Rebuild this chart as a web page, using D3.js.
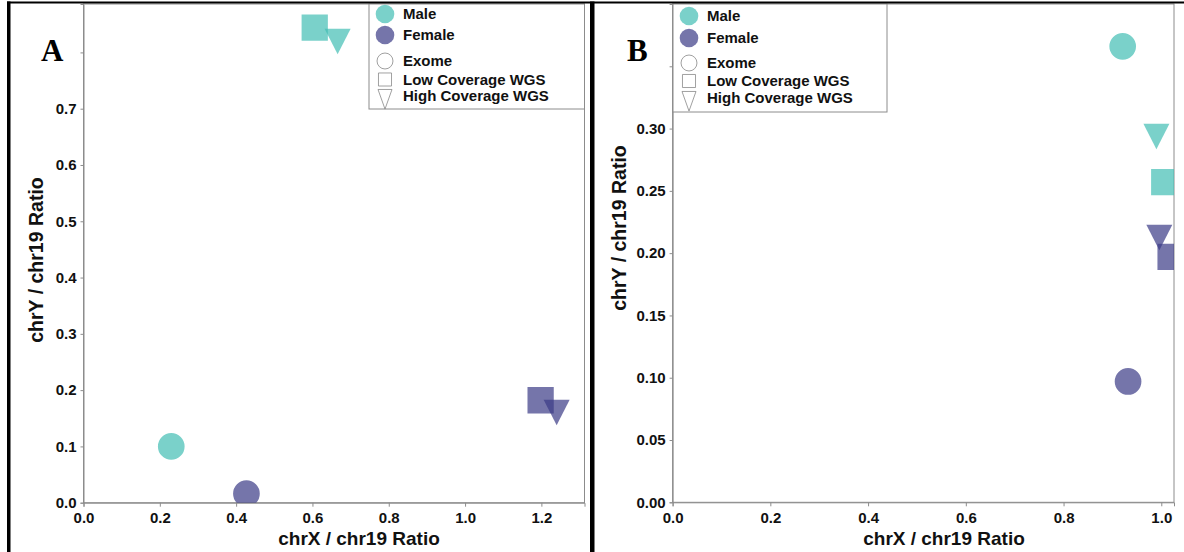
<!DOCTYPE html>
<html>
<head>
<meta charset="utf-8">
<script src="https://cdn.jsdelivr.net/npm/d3@7"></script>
<style>
  body { margin: 0; background: #fff; }
  svg { display: block; font-family: "Liberation Sans", Arial, sans-serif; font-weight: bold; }
</style>
</head>
<body>
<svg id="chart" width="1184" height="552"></svg>
<script>
// sex / sequencing method of each point (same order in both panels)
const sexes = ["Male", "Female", "Male", "Female", "Male", "Female"];
const methods = ["Exome", "Exome", "Low Coverage WGS", "Low Coverage WGS", "High Coverage WGS", "High Coverage WGS"];

// panel A values
const aX = [0.230, 0.427, 0.606, 1.198, 0.666, 1.240];
const aY = [0.100, 0.016, 0.844, 0.182, 0.827, 0.168];
const aXTicks = [0, 0.2, 0.4, 0.6, 0.8, 1.0, 1.2];
const aYTicks = [0, 0.1, 0.2, 0.3, 0.4, 0.5, 0.6, 0.7, 0.8];

// panel B values
const bX = [0.921, 0.932, 1.006, 1.019, 0.990, 0.996];
const bY = [0.366, 0.097, 0.257, 0.197, 0.297, 0.216];
const bXTicks = [0, 0.2, 0.4, 0.6, 0.8, 1.0];
const bYTicks = [0, 0.05, 0.10, 0.15, 0.20, 0.25, 0.30, 0.35];

const legendSex = ["Male", "Female"];
const legendMethod = ["Exome", "Low Coverage WGS", "High Coverage WGS"];

const colors = { Male: "#41bdb3", Female: "#3b3b86" };
const opacity = 0.7;
const gray = "#8c8c8c";

// downward triangle, width = sqrt(size), height = w * k
function triDown(k) {
  return {
    draw(ctx, size) {
      const w = Math.sqrt(size), h = w * k;
      ctx.moveTo(-w / 2, -h / 3);
      ctx.lineTo(w / 2, -h / 3);
      ctx.lineTo(0, 2 * h / 3);
      ctx.closePath();
    }
  };
}
const shapes = { "Exome": d3.symbolCircle, "Low Coverage WGS": d3.symbolSquare, "High Coverage WGS": triDown(0.98) };
const legendShapes = { "Exome": d3.symbolCircle, "Low Coverage WGS": d3.symbolSquare, "High Coverage WGS": triDown(1.4) };
const sizes = { "Exome": 560, "Low Coverage WGS": 690, "High Coverage WGS": 676 };
const legendSizes = { "Exome": 200, "Low Coverage WGS": 170, "High Coverage WGS": 196 };

const svg = d3.select("#chart");
svg.append("rect").attr("width", 1184).attr("height", 552).attr("fill", "#fff");

function drawPanel(p) {
  const x = d3.scaleLinear().domain([0, p.xMax]).range([p.left, p.right]);
  const y = d3.scaleLinear().domain([0, p.yMax]).range([p.bottom, p.top]);
  const g = svg.append("g");

  g.append("clipPath").attr("id", "clip" + p.id)
    .append("rect")
    .attr("x", p.left).attr("y", p.top)
    .attr("width", p.right - p.left).attr("height", p.bottom - p.top);

  // plot frame
  g.append("rect")
    .attr("x", p.left).attr("y", p.top)
    .attr("width", p.right - p.left).attr("height", p.bottom - p.top)
    .attr("fill", "none").attr("stroke", gray);

  // the top y tick has its label hidden behind the panel letter
  const yFmt = d3.format(p.yFmt);
  const top = p.yTicks[p.yTicks.length - 1];
  const xAxis = g.append("g")
    .attr("transform", `translate(0,${p.bottom})`)
    .call(d3.axisBottom(x).tickValues(p.xTicks).tickFormat(d3.format(".1f")).tickSize(4).tickPadding(6));
  const yAxis = g.append("g")
    .attr("transform", `translate(${p.left},0)`)
    .call(d3.axisLeft(y).tickValues(p.yTicks).tickFormat(d => d === top ? "" : yFmt(d)).tickSize(3).tickPadding(4));
  [xAxis, yAxis].forEach(a => {
    a.selectAll("path, line").attr("stroke", gray);
    a.selectAll("text").attr("fill", "#111").style("font-size", "15px").style("font-weight", "bold");
  });

  // points
  const pts = p.xs.map((v, i) => ({ x: v, y: p.ys[i], sex: sexes[i], method: methods[i] }));
  g.append("g").attr("clip-path", `url(#clip${p.id})`)
    .selectAll("path")
    .data(pts)
    .enter().append("path")
    .attr("transform", d => `translate(${x(d.x)},${y(d.y)})`)
    .attr("d", d => d3.symbol().type(shapes[d.method]).size(sizes[d.method])())
    .attr("fill", d => colors[d.sex])
    .attr("fill-opacity", opacity);

  // axis titles
  g.append("text")
    .attr("x", p.xTitleX).attr("y", 545)
    .attr("text-anchor", "middle").style("font-size", "19px").attr("fill", "#111")
    .text("chrX / chr19 Ratio");
  g.append("text")
    .attr("transform", `translate(${p.yTitleX},${p.yTitleY}) rotate(-90)`)
    .attr("text-anchor", "middle").style("font-size", "19.5px").attr("fill", "#111")
    .text("chrY / chr19 Ratio");

  // panel letter
  g.append("text")
    .attr("x", p.letterX).attr("y", 61)
    .style("font-family", "'Liberation Serif', 'Times New Roman', serif")
    .style("font-size", "31px").attr("fill", "#000")
    .text(p.id);

  // legend
  const lg = g.append("g");
  lg.append("rect")
    .attr("x", p.legX).attr("y", p.top)
    .attr("width", p.legW).attr("height", p.legH)
    .attr("fill", "#fff").attr("stroke", gray);
  const cx = p.legX + 16;
  legendSex.forEach((s, i) => {
    const yy = p.legRows[i];
    lg.append("circle").attr("cx", cx).attr("cy", yy).attr("r", 9.3)
      .attr("fill", colors[s]).attr("fill-opacity", opacity);
    lg.append("text").attr("x", cx + 18).attr("y", yy + 5)
      .style("font-size", "15px").attr("fill", "#111").text(s);
  });
  legendMethod.forEach((m, i) => {
    const yy = p.legRows[i + 2];
    lg.append("path")
      .attr("transform", `translate(${cx},${yy})`)
      .attr("d", d3.symbol().type(legendShapes[m]).size(legendSizes[m])())
      .attr("fill", "none").attr("stroke", "#888").attr("stroke-width", 0.8);
    lg.append("text").attr("x", cx + 18).attr("y", yy + 5)
      .style("font-size", "15px").attr("fill", "#111").text(m);
  });
}

drawPanel({
  id: "A", left: 83.5, right: 584.5, top: 4, bottom: 502.7,
  xMax: 1.313, yMax: 0.886, xTicks: aXTicks, yTicks: aYTicks, yFmt: ".1f",
  xs: aX, ys: aY, xTitleX: 359, yTitleX: 43, yTitleY: 260, letterX: 41,
  legX: 369, legW: 215.5, legH: 105, legRows: [14, 35, 61, 79.5, 96]
});
drawPanel({
  id: "B", left: 672.6, right: 1174, top: 4, bottom: 502.3,
  xMax: 1.026, yMax: 0.40, xTicks: bXTicks, yTicks: bYTicks, yFmt: ".2f",
  xs: bX, ys: bY, xTitleX: 944, yTitleX: 626, yTitleY: 228, letterX: 627,
  legX: 673, legW: 214, legH: 108, legRows: [16, 38, 63, 81, 98]
});

// black panel borders
svg.append("rect").attr("x", 7).attr("y", 1.5).attr("width", 1177).attr("height", 2).attr("fill", "#000");
svg.append("rect").attr("x", 7).attr("y", 1.5).attr("width", 3.5).attr("height", 551).attr("fill", "#000");
svg.append("rect").attr("x", 590).attr("y", 1.5).attr("width", 4.5).attr("height", 551).attr("fill", "#000");
</script>
</body>
</html>
